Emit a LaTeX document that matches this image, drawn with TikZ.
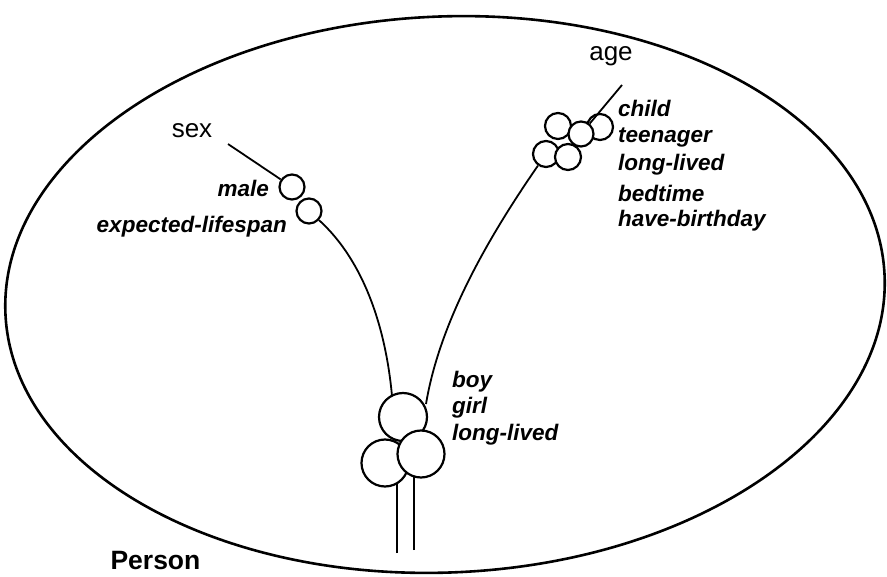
\documentclass[tikz,border=0pt]{standalone}
\usepackage{fontspec}
\setmainfont{Liberation Sans}
\begin{document}
\begin{tikzpicture}[x=1pt, y=-1pt,
    ring/.style={circle, draw, line width=2.2pt, fill=white, inner sep=0pt},
    slot/.style={font=\fontsize{22.5}{24}\selectfont\bfseries\itshape, inner sep=0pt},
    attr/.style={font=\fontsize{26}{28}\selectfont, inner sep=0pt},
    branch/.style={line width=1.8pt}]
    \useasboundingbox (0,0) rectangle (887,577);

    % Concept
    \draw[line width=2.6pt, rotate around={2.5:(445,294.5)}] (445,294.5) ellipse (440 and 278);
    \node[font=\fontsize{26.5}{28}\selectfont\bfseries, anchor=base west] (person) at (107,569) {Person};

    % Attributes
    \node[attr] (sex) at (192,131) {sex};
    \node[attr] (age) at (611,56) {age};
    \coordinate (sexend) at (228,144);
    \coordinate (ageend) at (622,85);

    % Slot circles
    \node[ring, minimum size=25pt] (m1) at (292,187) {};
    \node[ring, minimum size=25pt] (m2) at (309,211) {};
    \node[ring, minimum size=26pt] (a3) at (600,127) {};
    \node[ring, minimum size=26pt] (a1) at (558,126) {};
    \node[ring, minimum size=25pt] (a2) at (581,134) {};
    \node[ring, minimum size=26pt] (a4) at (546,154) {};
    \node[ring, minimum size=26pt] (a5) at (568,157) {};

    % Branches
    \draw[branch] (sexend) -- (m1);
    \draw[branch] (ageend) -- (a2);
    \draw[branch] (m2) .. controls (365,262) and (386,330) .. (392,396);
    \draw[branch] (a4) .. controls (490,235) and (440,320) .. (426,404);

    % Merged circles
    \coordinate (stem1) at (397,553);
    \coordinate (stem2) at (414,550);
    \draw[branch] (stem1) -- (stem1 |- 0,470);
    \draw[branch] (stem2) -- (stem2 |- 0,460);
    \node[ring, minimum size=48pt] (b1) at (403,417) {};
    \node[ring, minimum size=47pt] (b2) at (385,463) {};
    \node[ring, minimum size=47pt] (b3) at (421,454) {};

    % Slots
    \node[slot, anchor=east] (male) at (269,188) {male};
    \node[slot, anchor=east] (lifespan) at (287,227) {expected-lifespan};
    \node[slot, anchor=west] (child) at (618,108) {child};
    \node[slot, anchor=west] (teen) at (618,137) {teenager};
    \node[slot, anchor=west] (long1) at (618,165) {long-lived};
    \node[slot, anchor=west] (bed) at (618,193) {bedtime};
    \node[slot, anchor=west] (bday) at (618,221) {have-birthday};
    \node[slot, anchor=west] (boy) at (452,382) {boy};
    \node[slot, anchor=west] (girl) at (452,408) {girl};
    \node[slot, anchor=west] (long2) at (452,435) {long-lived};
\end{tikzpicture}
\end{document}
